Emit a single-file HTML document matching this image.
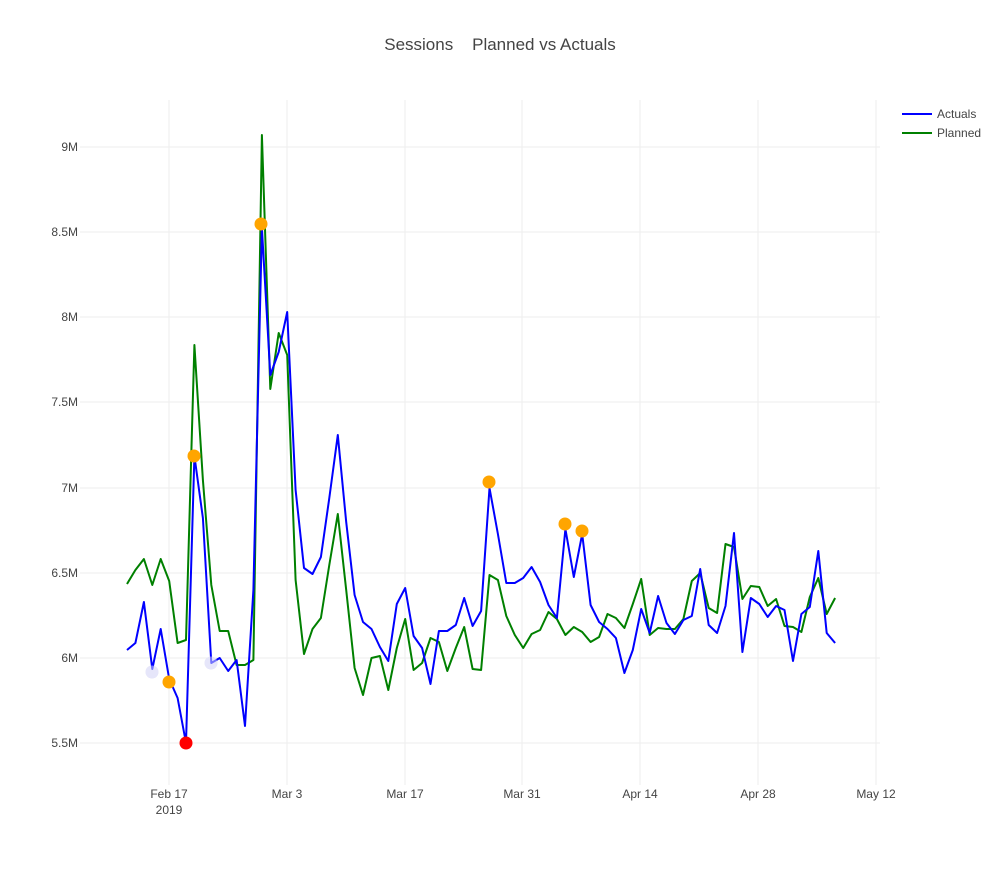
<!DOCTYPE html>
<html><head><meta charset="utf-8"><style>
body{margin:0;background:#fff;}
svg text{font-family:"Liberation Sans",sans-serif;fill:#444;}
</style></head><body>
<svg id="s" width="1000" height="865" xmlns="http://www.w3.org/2000/svg">
<rect width="1000" height="865" fill="#fff"/>
<text x="500" y="50" font-size="17" text-anchor="middle" style="white-space:pre">Sessions    Planned vs Actuals</text>
<g stroke="#eee" stroke-width="1" id="grid"></g>
<g font-size="12" text-anchor="end">
<text x="78" y="151">9M</text><text x="78" y="236">8.5M</text><text x="78" y="321">8M</text><text x="78" y="406">7.5M</text><text x="78" y="492">7M</text><text x="78" y="577">6.5M</text><text x="78" y="662">6M</text><text x="78" y="747">5.5M</text>
</g>
<g font-size="12" text-anchor="middle">
<text x="169" y="798">Feb 17</text><text x="169" y="814">2019</text>
<text x="287" y="798">Mar 3</text><text x="405" y="798">Mar 17</text><text x="522" y="798">Mar 31</text><text x="640" y="798">Apr 14</text><text x="758" y="798">Apr 28</text><text x="876" y="798">May 12</text>
</g>
<circle cx="152" cy="672" r="6.5" fill="#e6e6fa"/>
<circle cx="211" cy="663" r="6.5" fill="#e6e6fa"/>
<polyline id="g" fill="none" stroke="#008000" stroke-width="2" stroke-linejoin="round"/>
<polyline id="b" fill="none" stroke="#0000ff" stroke-width="2" stroke-linejoin="round"/>
<g>
<circle cx="152" cy="672" r="6.5" fill="#e6e6fa" opacity="0.5"/>
<circle cx="211" cy="663" r="6.5" fill="#e6e6fa" opacity="0.5"/>
<circle cx="169" cy="682" r="6.5" fill="#ffa500"/>
<circle cx="194" cy="456" r="6.5" fill="#ffa500"/>
<circle cx="261" cy="224" r="6.5" fill="#ffa500"/>
<circle cx="489" cy="482" r="6.5" fill="#ffa500"/>
<circle cx="565" cy="524" r="6.5" fill="#ffa500"/>
<circle cx="582" cy="531" r="6.5" fill="#ffa500"/>
<circle cx="186" cy="743" r="6.5" fill="#ff0000"/>
</g>
<line x1="902" y1="114" x2="932" y2="114" stroke="#0000ff" stroke-width="2"/>
<line x1="902" y1="133" x2="932" y2="133" stroke="#008000" stroke-width="2"/>
<text x="937" y="118" font-size="12">Actuals</text>
<text x="937" y="137" font-size="12">Planned</text>
</svg>
<script>
var B=[650,643,602,669,629,679,698,743,456,518,663,658,671,660,726,590,228,375,352,312,490,568,574,557,498,435,522,595,622,629,647,661,604,588,636,648,684,631,631,625,598,626,611,488,534,583,583,578,567,582,605,618,529,577,534,605,622,629,638,673,650,609,633,596,623,634,620,616,569,625,633,606,533,652,598,604,617,606,610,661,614,607,551,633,643];
var G=[584,570,559,585,559,581,643,640,345,480,585,631,631,665,665,660,135,389,333,355,580,654,629,618,565,514,590,668,695,658,656,690,648,619,670,663,638,642,671,648,627,669,670,575,580,616,635,648,634,630,612,619,635,627,632,642,637,614,618,628,604,579,635,628,629,629,619,581,573,608,613,544,547,599,586,587,606,599,626,627,632,597,578,614,598];
function p(a){return a.map(function(y,i){return (127+8.43*i).toFixed(1)+","+y}).join(" ");}
document.getElementById("b").setAttribute("points",p(B));
document.getElementById("g").setAttribute("points",p(G));
var g=document.getElementById("grid"),h="";
[147,232,317,402,488,573,658,743].forEach(function(y){h+='<line x1="80" x2="880" y1="'+y+'" y2="'+y+'"/>';});
[169,287,405,522,640,758,876].forEach(function(x){h+='<line y1="100" y2="785" x1="'+x+'" x2="'+x+'"/>';});
g.innerHTML=h;
</script>
</body></html>
